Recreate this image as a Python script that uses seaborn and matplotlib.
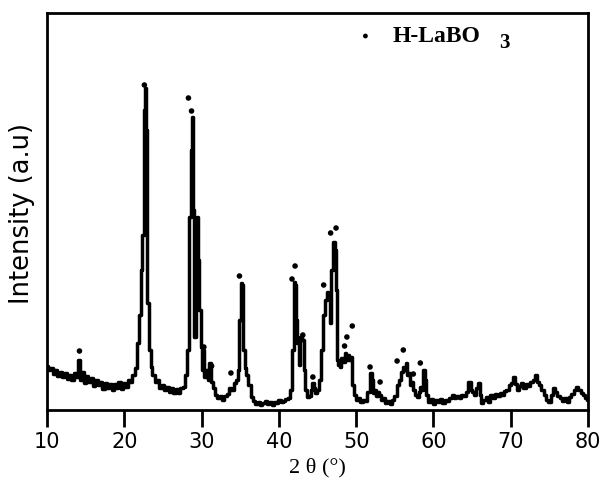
import matplotlib
matplotlib.use("Agg")
import matplotlib.pyplot as plt
import seaborn as sns
import pandas as pd

two_theta = [10.0, 10.3, 10.6, 10.9, 11.2, 11.5, 11.8, 12.1, 12.4, 12.7, 13.0, 13.3, 13.6, 13.9, 14.2, 14.4, 14.6, 14.9,
             15.2, 15.5, 15.8, 16.1, 16.4, 16.7, 17.0, 17.3, 17.6, 17.9, 18.2, 18.5, 18.8, 19.1, 19.4, 19.7, 20.0, 20.3,
             20.6, 20.9, 21.2, 21.5, 21.8, 22.0, 22.2, 22.4, 22.6, 22.75, 22.9, 23.1, 23.3, 23.5, 23.8, 24.1, 24.4, 24.7,
             25.0, 25.3, 25.6, 25.9, 26.2, 26.5, 26.8, 27.1, 27.4, 27.7, 28.0, 28.2, 28.5, 28.7, 28.85, 29.0, 29.15, 29.3,
             29.45, 29.6, 29.8, 30.0, 30.15, 30.3, 30.45, 30.7, 30.9, 31.1, 31.3, 31.6, 31.9, 32.2, 32.5, 32.8, 33.1, 33.4,
             33.7, 34.0, 34.3, 34.6, 34.8, 35.0, 35.2, 35.35, 35.5, 35.7, 35.9, 36.2, 36.5, 36.8, 37.1, 37.4, 37.7, 38.0,
             38.3, 38.6, 38.9, 39.2, 39.5, 39.8, 40.1, 40.4, 40.7, 41.0, 41.3, 41.6, 41.8, 42.0, 42.15, 42.3, 42.5, 42.7,
             42.9, 43.1, 43.3, 43.5, 43.7, 44.0, 44.2, 44.4, 44.6, 44.8, 45.0, 45.3, 45.6, 45.9, 46.1, 46.3, 46.5, 46.7,
             46.9, 47.1, 47.3, 47.45, 47.6, 47.8, 48.0, 48.2, 48.4, 48.6, 48.8, 49.0, 49.2, 49.4, 49.6, 49.8, 50.1, 50.4,
             50.7, 51.0, 51.3, 51.6, 51.9, 52.1, 52.3, 52.5, 52.7, 52.9, 53.1, 53.3, 53.6, 53.9, 54.2, 54.5, 54.8, 55.1,
             55.4, 55.6, 55.9, 56.1, 56.3, 56.5, 56.7, 56.9, 57.1, 57.3, 57.5, 57.7, 58.0, 58.2, 58.4, 58.6, 58.8, 59.0,
             59.2, 59.5, 59.8, 60.1, 60.4, 60.7, 61.0, 61.3, 61.6, 61.9, 62.2, 62.5, 62.8, 63.1, 63.4, 63.7, 64.0, 64.3,
             64.7, 64.9, 65.1, 65.4, 65.7, 65.9, 66.1, 66.3, 66.6, 66.9, 67.2, 67.5, 67.8, 68.1, 68.4, 68.7, 69.0, 69.3,
             69.6, 69.9, 70.2, 70.4, 70.6, 70.9, 71.2, 71.5, 71.8, 72.1, 72.4, 72.7, 73.0, 73.2, 73.5, 73.8, 74.1, 74.4,
             74.7, 75.0, 75.3, 75.6, 75.9, 76.2, 76.5, 76.8, 77.1, 77.4, 77.7, 78.0, 78.3, 78.6, 78.9, 79.2, 79.5, 79.8,
             80.0]
intensity = [44, 40, 42, 36, 40, 34, 38, 33, 37, 31, 35, 30, 37, 33, 50, 30, 38, 27,
             34, 28, 32, 24, 30, 25, 28, 21, 27, 22, 26, 20, 26, 22, 28, 21, 27, 23,
             30, 28, 35, 42, 67, 95, 140, 175, 300, 322, 280, 107, 60, 43, 35, 28, 30, 22,
             25, 20, 23, 18, 22, 17, 21, 17, 22, 23, 35, 60, 193, 260, 293, 200, 73, 150,
             193, 150, 100, 63, 40, 60, 33, 40, 30, 47, 28, 22, 15, 12, 14, 10, 14, 16,
             22, 20, 27, 30, 40, 90, 127, 125, 60, 42, 35, 25, 13, 9, 6, 8, 5, 7,
             9, 6, 8, 5, 8, 7, 10, 8, 9, 11, 12, 20, 60, 128, 125, 90, 67, 45,
             73, 70, 40, 20, 13, 14, 20, 27, 22, 17, 20, 30, 60, 95, 110, 118, 112, 87,
             140, 168, 160, 120, 50, 45, 43, 52, 48, 57, 50, 55, 50, 53, 25, 15, 10, 12,
             8, 10, 9, 18, 37, 30, 17, 20, 14, 18, 15, 10, 12, 7, 9, 6, 10, 14,
             25, 30, 38, 43, 40, 47, 35, 37, 25, 28, 20, 15, 13, 18, 23, 20, 40, 30,
             15, 8, 11, 6, 10, 8, 11, 7, 10, 9, 12, 15, 12, 14, 12, 15, 14, 18,
             28, 20, 18, 15, 22, 27, 15, 7, 10, 13, 8, 15, 12, 16, 14, 17, 15, 19,
             20, 25, 27, 33, 26, 20, 24, 27, 22, 26, 24, 28, 30, 35, 28, 25, 20, 15,
             10, 8, 15, 22, 18, 14, 12, 9, 12, 8, 13, 16, 20, 23, 20, 17, 15, 12,
             10]

marker_theta = [14.2, 22.6, 28.3, 28.7, 30.3, 31.3, 33.8, 34.9, 41.7, 42.1, 43.1, 44.4, 45.8,
                46.7, 47.4, 48.5, 48.8, 49.5, 51.8, 53.1, 55.3, 56.1, 57.4, 58.3]
marker_height = [59, 325, 312, 299, 63, 44, 37, 134, 131, 144, 75, 33, 125,
                 177, 182, 64, 73, 84, 43, 28, 49, 60, 36, 47]

x_ticks = [10, 20, 30, 40, 50, 60, 70, 80]
legend_label = "H-LaBO"
legend_sub = "3"
x_label = "2 θ (°)"
y_label = "Intensity (a.u)"

sns.set_style("white")
plt.rcParams['font.family'] = ['DejaVu Sans']
plt.rcParams['text.color'] = 'black'
plt.rcParams['axes.labelcolor'] = 'black'
plt.rcParams['xtick.color'] = 'black'
plt.rcParams['xtick.labelcolor'] = 'black'

fig = plt.figure(figsize=(6.0, 4.93), dpi=100)
ax = fig.add_axes([47/600, 83/493, 541/600, 397/493])

df = pd.DataFrame({"two_theta": two_theta, "intensity": intensity})
sns.lineplot(data=df, x="two_theta", y="intensity", ax=ax, color="black",
             linewidth=2.5, estimator=None, drawstyle="steps-mid")

mk = pd.DataFrame({"t": marker_theta, "h": marker_height})
sns.scatterplot(data=mk, x="t", y="h", ax=ax, color="black", s=16, edgecolor="none")

# legend marker and label
sns.scatterplot(x=[51.2], y=[374], ax=ax, color="black", s=12, edgecolor="none")
ax.text(0.638, 0.927, legend_label, transform=ax.transAxes, fontsize=17,
        fontweight="bold", family="Liberation Serif", ha="left", va="baseline", color="black")
ax.text(0.836, 0.912, legend_sub, transform=ax.transAxes, fontsize=15,
        fontweight="bold", family="Liberation Serif", ha="left", va="baseline", color="black")

ax.set_xlim(10, 80)
ax.set_ylim(0, 397)
ax.set_xticks(x_ticks)
ax.set_xticklabels([str(t) for t in x_ticks], fontsize=15, color="black")
ax.set_yticks([])
ax.tick_params(axis="x", direction="out", length=12, width=2, pad=4, bottom=True, colors="black")
for s in ax.spines.values():
    s.set_color("black")
    s.set_linewidth(2)
    s.set_visible(True)

ax.set_xlabel(x_label, fontsize=16, family="Liberation Serif", labelpad=4, color="black")
ax.set_ylabel(y_label, fontsize=18.5, color="black")
ax.yaxis.set_label_coords(-0.022, 0.494)

fig.savefig("out.png", dpi=100)
